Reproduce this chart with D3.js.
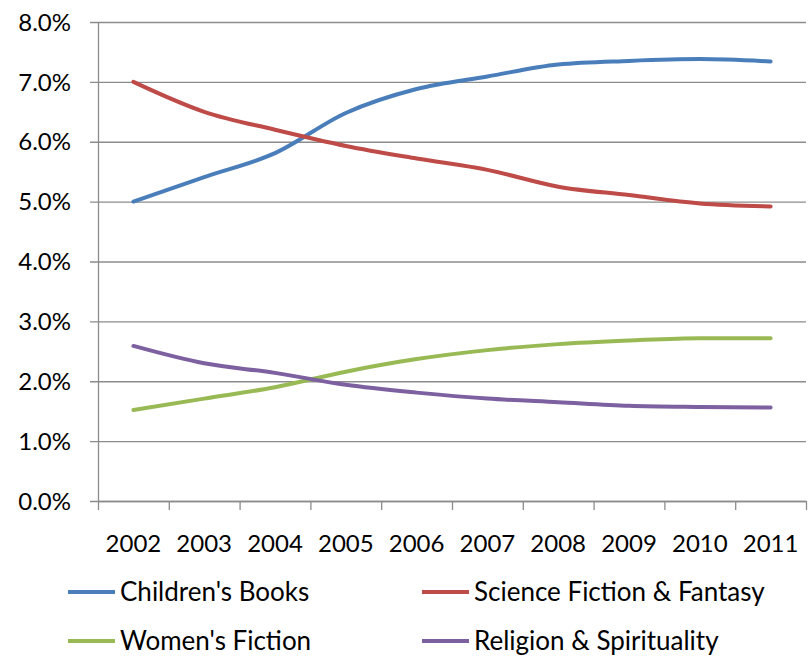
<!DOCTYPE html>
<html>
<head>
<meta charset="utf-8">
<script src="https://cdn.jsdelivr.net/npm/d3@7"></script>
<style>
  body { margin: 0; background: #fff; }
  text { font-family: Lato, "Open Sans", sans-serif; fill: #000; }
</style>
</head>
<body>
<script>
const years = ["2002", "2003", "2004", "2005", "2006", "2007", "2008", "2009", "2010", "2011"];
const childrens = [5.00, 5.41, 5.81, 6.48, 6.88, 7.09, 7.29, 7.35, 7.38, 7.34];
const scifi = [7.00, 6.50, 6.20, 5.93, 5.72, 5.53, 5.25, 5.11, 4.97, 4.92];
const womens = [1.52, 1.71, 1.90, 2.16, 2.37, 2.52, 2.62, 2.68, 2.72, 2.72];
const religion = [2.59, 2.30, 2.14, 1.94, 1.81, 1.71, 1.65, 1.59, 1.57, 1.56];
const yTicks = [0, 1, 2, 3, 4, 5, 6, 7, 8];

const series = [
  {name: "Children's Books", values: childrens, color: "#4a7ebb"},
  {name: "Science Fiction & Fantasy", values: scifi, color: "#be4b48"},
  {name: "Women's Fiction", values: womens, color: "#98b954"},
  {name: "Religion & Spirituality", values: religion, color: "#7d60a0"}
];

const width = 808, height = 660;
const margin = {top: 22, right: 2, bottom: 159, left: 98};
const plotW = width - margin.left - margin.right;
const plotH = height - margin.top - margin.bottom;

let svg = d3.select("body")
  .append("svg")
  .attr("width", width)
  .attr("height", height);

let g = svg.append("g")
  .attr("transform", "translate(" + margin.left + "," + margin.top + ")");

let xScale = d3.scaleBand()
  .domain(years)
  .range([0, plotW]);

let yScale = d3.scaleLinear()
  .domain([0, 8])
  .range([plotH, 0]);

// gridlines
g.selectAll(".grid")
  .data(yTicks)
  .enter()
  .append("line")
  .attr("x1", -8)
  .attr("x2", plotW)
  .attr("y1", d => yScale(d) + 0.5)
  .attr("y2", d => yScale(d) + 0.5)
  .attr("stroke", "#8c8c8c")
  .attr("stroke-width", 1.3);

// y axis labels
g.selectAll(".ylab")
  .data(yTicks)
  .enter()
  .append("text")
  .attr("x", -27)
  .attr("y", d => yScale(d))
  .attr("dy", "0.36em")
  .attr("text-anchor", "end")
  .style("font-size", "24px")
  .text(d => d.toFixed(1) + "%");

// y axis line
g.append("line")
  .attr("x1", 0.5).attr("x2", 0.5)
  .attr("y1", 0).attr("y2", plotH)
  .attr("stroke", "#8c8c8c")
  .attr("stroke-width", 1.3);

// x axis
let xAxis = g.append("g")
  .attr("transform", "translate(0," + plotH + ")")
  .call(d3.axisBottom(xScale).tickSize(0).tickPadding(34));
xAxis.select(".domain").attr("stroke", "#8c8c8c").attr("stroke-width", 1.3);
xAxis.selectAll("text").style("font-size", "24px").style("font-family", "Lato, sans-serif");

// x tick marks between categories
g.selectAll(".xtick")
  .data(years.concat(["end"]))
  .enter()
  .append("line")
  .attr("x1", (d, i) => i * xScale.step() + 0.5)
  .attr("x2", (d, i) => i * xScale.step() + 0.5)
  .attr("y1", plotH)
  .attr("y2", plotH + 9)
  .attr("stroke", "#8c8c8c")
  .attr("stroke-width", 1.3);

// lines
let line = d3.line()
  .x((d, i) => xScale(years[i]) + xScale.bandwidth() / 2)
  .y(d => yScale(d))
  .curve(d3.curveMonotoneX);

g.selectAll(".series")
  .data(series)
  .enter()
  .append("path")
  .attr("fill", "none")
  .attr("stroke", d => d.color)
  .attr("stroke-width", 4)
  .attr("stroke-linecap", "round")
  .attr("stroke-linejoin", "round")
  .attr("d", d => line(d.values));

// legend
const legendX = [68, 422];
const legendY = [592, 641];
let legend = svg.selectAll(".legend")
  .data(series)
  .enter()
  .append("g")
  .attr("transform", (d, i) => "translate(" + legendX[i % 2] + "," + legendY[Math.floor(i / 2)] + ")");

legend.append("line")
  .attr("x1", 0).attr("x2", 47)
  .attr("y1", 0).attr("y2", 0)
  .attr("stroke", d => d.color)
  .attr("stroke-width", 4);

legend.append("text")
  .attr("x", 52)
  .attr("y", 0)
  .attr("dy", "0.36em")
  .style("font-size", "26px")
  .text(d => d.name);
</script>
</body>
</html>
